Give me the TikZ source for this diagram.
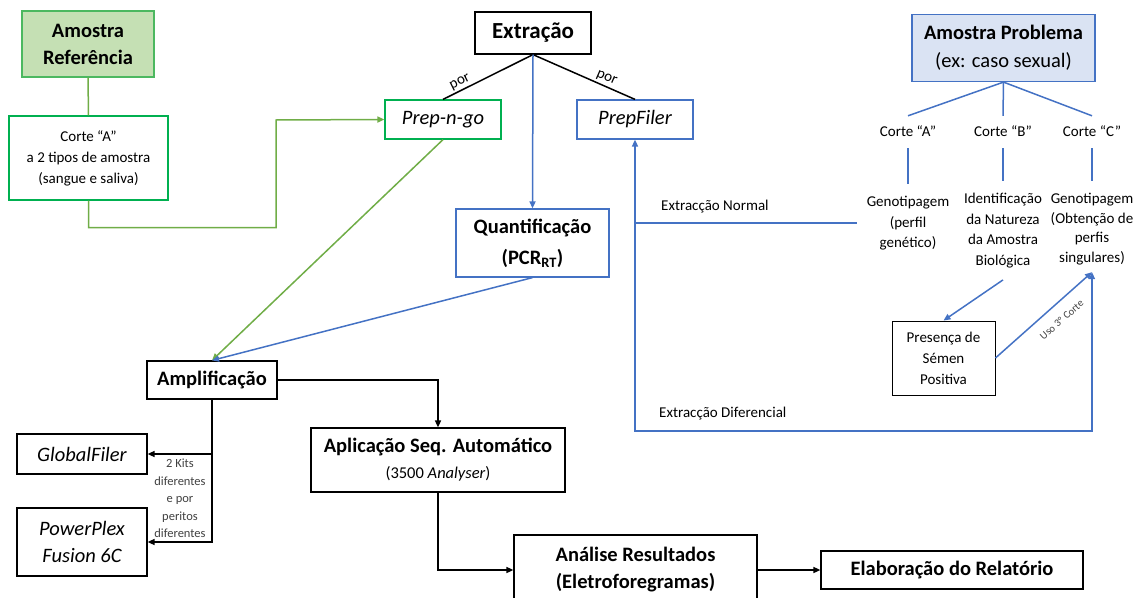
\documentclass[tikz,border=0pt]{standalone}
\usepackage{fontspec}
\setmainfont{Carlito}
\usetikzlibrary{arrows.meta}
\definecolor{gline}{HTML}{70AD47}
\definecolor{gbox}{HTML}{00B050}
\definecolor{gfill}{HTML}{C5E0B4}
\definecolor{gref}{HTML}{4CB860}
\definecolor{bl}{HTML}{4472C4}
\definecolor{bfill}{HTML}{DAE3F3}
\definecolor{txtgray}{HTML}{404040}
\newcommand{\FsExt}{\fontsize{23}{28}\selectfont}
\newcommand{\FsTitle}{\fontsize{20.5}{27}\selectfont}
\newcommand{\FsText}{\fontsize{15}{21}\selectfont}
\newcommand{\FsSmall}{\fontsize{12.5}{17.4}\selectfont}
\newcommand{\FsTiny}{\fontsize{10.5}{12}\selectfont}
\begin{document}
\begin{tikzpicture}[x=1pt,y=-1pt,
  box/.style={draw, line width=1.2pt, align=center, inner sep=2pt},
  conn/.style={line width=1.5pt},
  arr/.style={conn, -{Triangle[length=7pt,width=6pt]}},
  darr/.style={conn, {Triangle[length=7pt,width=6pt]}-{Triangle[length=7pt,width=6pt]}},
  lbl/.style={align=center, font=\FsText},
  cortelbl/.style={font=\FsText, text height=11pt, text depth=3pt, inner ysep=9pt},
  resl/.style={align=center, font=\fontsize{15}{20.5}\selectfont, inner xsep=10pt, inner ysep=12pt, anchor=north},
]
\useasboundingbox (0,0) rectangle (1140,597);

% left column
\node[box, draw=gref, fill=gfill, minimum width=132pt, minimum height=66pt, font=\FsTitle\bfseries] (ref) at (88,44) {Amostra\\Referência};
\node[box, draw=gbox, minimum width=159pt, minimum height=84pt, font=\FsText] (corteA) at (88.5,158) {Corte “A”\\a 2 tipos de amostra\\(sangue e saliva)};

% centre
\node[box, minimum width=116pt, minimum height=42pt, font=\FsExt\bfseries] (extr) at (533,33) {Extração};
\node[box, draw=gbox, minimum width=116pt, minimum height=39pt, font=\FsTitle\itshape] (prep) at (443,119.5) {Prep-n-go};
\node[box, draw=bl, minimum width=116pt, minimum height=39pt, font=\FsTitle\itshape] (pfiler) at (635,119.5) {PrepFiler};
\node[box, draw=bl, minimum width=153pt, minimum height=68pt, font=\fontsize{20.5}{31}\selectfont\bfseries] (quant) at (532.5,243) {Quantificação\\(PCR\textsubscript{RT})};
\node[box, minimum width=130pt, minimum height=38pt, font=\FsTitle\bfseries] (ampl) at (212,380) {Amplificação};
\node[box, minimum width=130pt, minimum height=40pt, font=\FsTitle\itshape] (gf) at (82,454) {GlobalFiler};
\node[box, minimum width=130pt, minimum height=68pt, font=\FsTitle\itshape] (pp) at (82,542) {PowerPlex\\Fusion 6C};
\node[box, minimum width=254pt, minimum height=64pt, font=\fontsize{20.5}{26}\selectfont] (apl) at (438,460) {\bfseries Aplicação Seq. Automático\\{\fontsize{16.5}{20}\selectfont (3500 \textit{Analyser})}};
\node[box, minimum width=243pt, minimum height=70pt, font=\fontsize{20.5}{27}\selectfont\bfseries] (anal) at (635.5,570) {Análise Resultados\\(Eletroforegramas)};
\node[box, minimum width=262pt, minimum height=38pt, font=\FsTitle\bfseries] (elab) at (952,570) {Elaboração do Relatório};

% right
\node[box, draw=bl, fill=bfill, minimum width=183pt, minimum height=67pt, font=\fontsize{20.5}{28}\selectfont] (prob) at (1003.5,48) {\bfseries Amostra Problema\\(ex: caso sexual)};
\node[cortelbl] (ca) at (908,132) {Corte “A”};
\node[cortelbl] (cb) at (1003,132) {Corte “B”};
\node[cortelbl] (cc) at (1092,132) {Corte “C”};
\node[resl] (genoA) at (908,184) {Genotipagem\\(perfil\\genético)};
\node[resl] (ident) at (1003,181) {Identificação\\da Natureza\\da Amostra\\Biológica};
\node[resl, font=\fontsize{15}{19.6}\selectfont] (genoC) at (1092,181) {Genotipagem\\(Obtenção de\\perfis\\singulares)};
\node[box, line width=0.9pt, minimum width=103pt, minimum height=74pt, font=\FsText] (pres) at (943.5,358) {Presença de\\Sémen\\Positiva};

% labels
\node[anchor=west, inner sep=0pt, font=\FsText] (lnorm) at (661,207) {Extracção Normal};
\node[anchor=west, inner sep=0pt, font=\FsText] (ldif) at (659,414) {Extracção Diferencial};
\node[align=center, font=\FsSmall, text=txtgray] (kits) at (180,498.5) {2 Kits\\diferentes\\e por\\peritos\\diferentes};
\coordinate (dl) at (1092,431);

% connectors: left / green
\draw[conn, gline] (ref.south) -- (corteA.north);
\draw[arr, gline] (corteA.south) -- ++(0,27) -| (276,120) -- (prep.west);
\draw[arr, gline] (prep.south) -- (ampl.north);

% extraction
\draw[conn] (prep.north) -- node[pos=0.23, above, sloped, font=\fontsize{15}{18}\selectfont, inner sep=2pt] {por} (extr.south);
\draw[conn] (extr.south) -- node[pos=0.69, above, sloped, font=\fontsize{15}{18}\selectfont, inner sep=2pt] {por} (pfiler.north);
\draw[arr, bl] (extr.south) -- (quant.north);
\draw[arr, bl] (quant.south) -- (ampl.north);

% amplification
\draw[arr] (ampl.east) -| (apl.north);
\draw[arr] (ampl.south) |- (pp.east);
\draw[arr] (ampl.south |- gf.east) -- (gf.east);
\draw[arr] (apl.south) |- (anal.west);
\draw[arr] (anal.east) -- (elab.west);

% right tree
\draw[conn, bl] (prob.south) -- (ca.north);
\draw[conn, bl] (prob.south) -- (cb.north);
\draw[conn, bl] (prob.south) -- (cc.north);
\draw[conn, bl] (ca.south) -- (genoA.north);
\draw[conn, bl] (cb.south) -- (ident.north);
\draw[conn, bl] (cc.south) -- (genoC.north);
\draw[arr, bl] (ident.south) -- (pres.north);
\draw[arr, bl] (pres.east) -- node[pos=0.58, below, sloped, font=\FsTiny, text=txtgray, inner sep=11pt] {Uso 3º Corte} ([yshift=5pt]genoC.south);

% extraction routes
\draw[conn, bl] (genoA.west) -- (genoA.west -| pfiler.south);
\draw[darr, bl] (pfiler.south) |- (dl) -- ([yshift=5pt]genoC.south);
\end{tikzpicture}
\end{document}
